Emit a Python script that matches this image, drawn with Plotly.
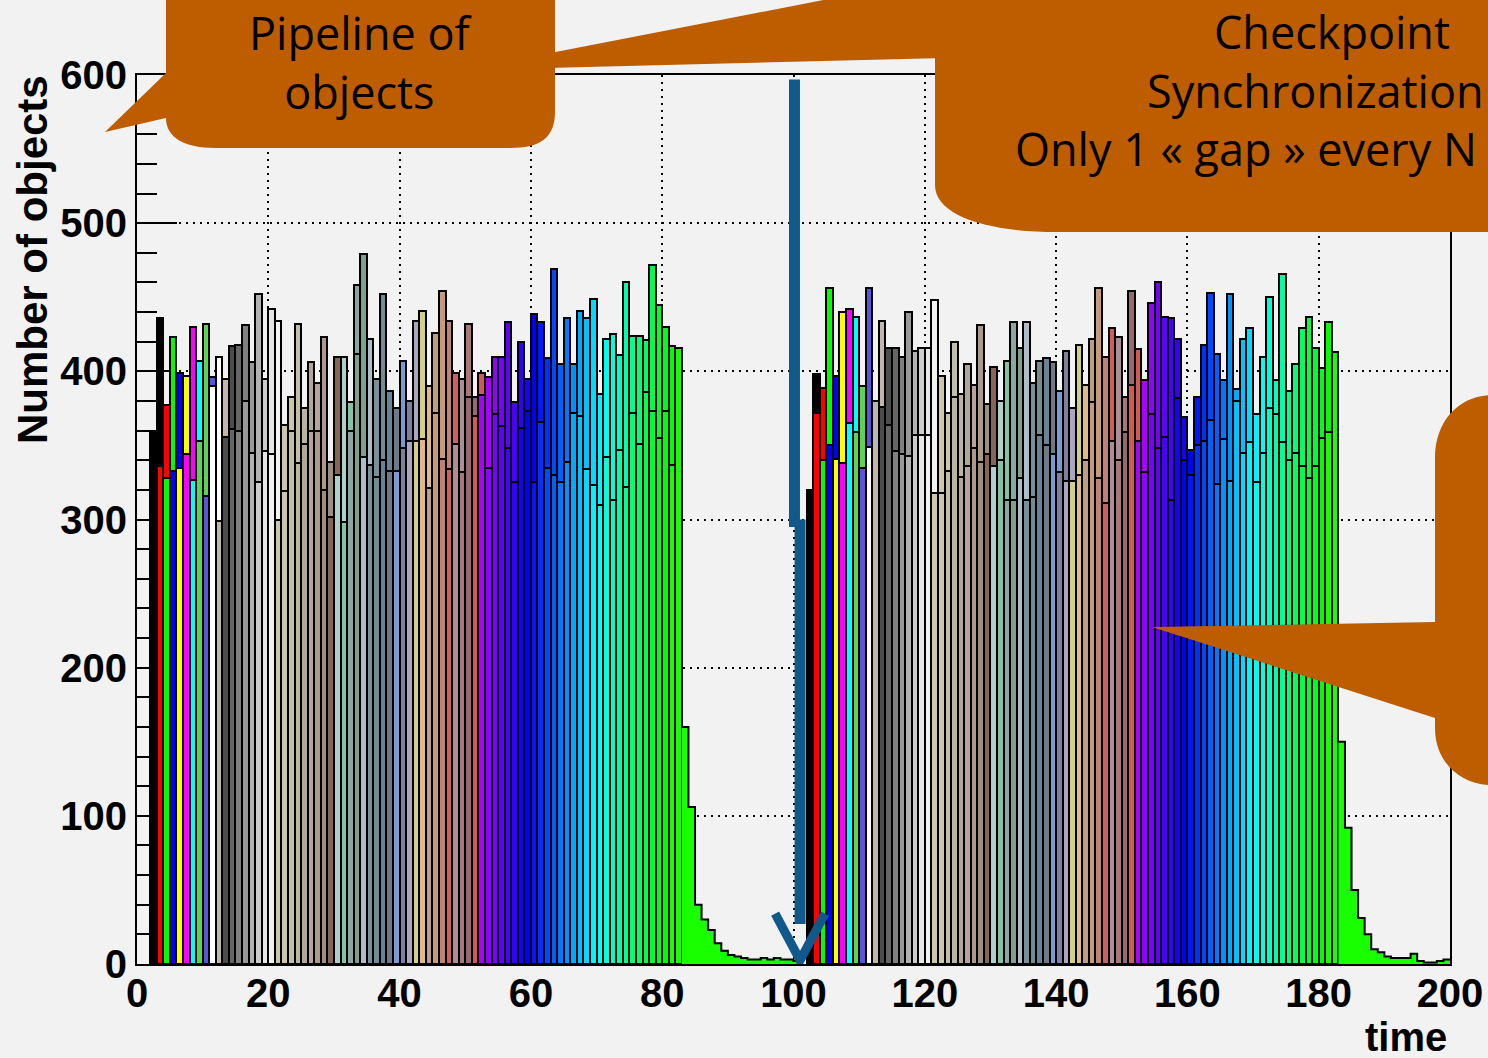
import colorsys
import plotly.graph_objects as go

# ---------------- data ----------------
# each "object" i has a rising bin (mid) followed by its peak bin
cycle1_start = 1      # object i: mid in bin start+i, peak in bin start+i+1
cycle1_mid = [359, 336, 328, 333, 335, 344, 327, 353, 316, 390, 299, 356, 361, 360, 380, 345,
              325, 346, 344, 300, 319, 360, 338, 351, 360, 360, 320, 302, 330, 298, 360, 412,
              342, 337, 329, 340, 333, 333, 348, 353, 353, 354, 321, 372, 341, 334, 351, 332,
              383, 370, 384, 335, 371, 363, 348, 325, 362, 373, 325, 366, 335, 330, 325, 339,
              372, 370, 334, 323, 310, 342, 313, 347, 322, 372, 351, 386, 373, 355, 373, 337]
cycle1_peak = [436, 377, 423, 399, 397, 430, 407, 432, 396, 410, 395, 417, 418, 431, 406, 452,
               395, 442, 434, 364, 383, 432, 375, 406, 392, 423, 339, 410, 410, 379, 458, 479,
               422, 395, 452, 387, 375, 407, 380, 434, 441, 390, 426, 454, 434, 399, 395, 432,
               383, 399, 396, 410, 410, 433, 379, 420, 395, 439, 433, 409, 469, 405, 436, 405,
               441, 436, 449, 385, 422, 425, 411, 460, 424, 424, 421, 472, 445, 430, 417, 416]
tail1_start = 83
tail1 = [160, 106, 40, 30, 23, 14, 9, 6, 5, 4, 3, 3, 4, 3, 4, 3, 3, 2]

cycle2_start = 101
cycle2_mid = [320, 372, 340, 350, 341, 338, 365, 359, 335, 349, 380, 376, 364, 346, 344, 343,
              357, 357, 357, 318, 318, 333, 383, 329, 336, 348, 339, 344, 336, 340, 313, 313,
              328, 313, 315, 357, 350, 344, 332, 326, 326, 330, 340, 379, 328, 311, 353, 340,
              359, 391, 353, 332, 371, 348, 356, 313, 382, 340, 330, 350, 353, 367, 324, 354,
              326, 380, 345, 352, 325, 345, 375, 371, 352, 340, 345, 336, 328, 336, 355, 359]
cycle2_peak = [398, 389, 456, 397, 440, 442, 437, 390, 456, 330, 434, 416, 416, 410, 440, 414,
               416, 416, 448, 397, 372, 420, 385, 405, 391, 431, 378, 403, 380, 407, 433, 416,
               433, 392, 407, 409, 406, 387, 414, 375, 418, 391, 422, 456, 410, 429, 423, 383,
               454, 415, 394, 446, 460, 437, 436, 422, 369, 347, 383, 418, 453, 412, 394, 452,
               388, 422, 429, 371, 410, 450, 394, 466, 387, 405, 429, 437, 416, 402, 433, 413]
tail2_start = 183
tail2 = [150, 92, 50, 31, 20, 10, 8, 5, 4, 4, 4, 7, 2, 1, 1, 2, 3]

x_ticks = [0, 20, 40, 60, 80, 100, 120, 140, 160, 180, 200]
y_ticks = [0, 100, 200, 300, 400, 500, 600]

# ---------------- ROOT default colour table ----------------
ROOT_RGB = {
    1: (0, 0, 0), 2: (1, 0, 0), 3: (0, 1, 0), 4: (0, 0, 1), 5: (1, 1, 0), 6: (1, 0, 1),
    7: (0, 1, 1), 8: (0.35, 0.83, 0.33), 9: (0.35, 0.33, 0.85), 10: (0.999, 0.999, 0.999),
    11: (0.754, 0.715, 0.676), 12: (.3, .3, .3), 13: (.4, .4, .4), 14: (.5, .5, .5),
    15: (.6, .6, .6), 16: (.7, .7, .7), 17: (.8, .8, .8), 18: (.9, .9, .9), 19: (.95, .95, .95),
    20: (0.8, 0.78, 0.67), 21: (0.8, 0.78, 0.67), 22: (0.76, 0.75, 0.66), 23: (0.73, 0.71, 0.64),
    24: (0.70, 0.65, 0.59), 25: (0.72, 0.64, 0.61), 26: (0.68, 0.6, 0.55), 27: (0.61, 0.56, 0.51),
    28: (0.53, 0.4, 0.34), 29: (0.69, 0.81, 0.79), 30: (0.52, 0.76, 0.64), 31: (0.54, 0.66, 0.63),
    32: (0.51, 0.62, 0.55), 33: (0.68, 0.74, 0.78), 34: (0.48, 0.56, 0.6), 35: (0.46, 0.54, 0.57),
    36: (0.41, 0.51, 0.59), 37: (0.43, 0.48, 0.52), 38: (0.49, 0.6, 0.82), 39: (0.5, 0.5, 0.61),
    40: (0.67, 0.65, 0.75), 41: (0.83, 0.81, 0.53), 42: (0.87, 0.73, 0.53), 43: (0.74, 0.62, 0.51),
    44: (0.78, 0.6, 0.49), 45: (0.75, 0.51, 0.47), 46: (0.81, 0.37, 0.38), 47: (0.67, 0.56, 0.58),
    48: (0.65, 0.47, 0.48), 49: (0.58, 0.41, 0.44), 50: (0.83, 0.35, 0.33),
}


def root_color(i):
    if i in ROOT_RGB:
        r, g, b = ROOT_RGB[i]
    else:
        hue = (280.0 - (i - 51) * 280.0 / 49.0) / 360.0
        r, g, b = colorsys.hls_to_rgb(hue, 0.5, 1.0)
    return "rgb(%d,%d,%d)" % (round(r * 255), round(g * 255), round(b * 255))


OUTLINE = dict(color="black", width=2)
fig = go.Figure()


def add_cycle(start, mids, peaks, tail_start, tail):
    n = len(peaks)
    cols = [root_color(i + 1) for i in range(n)]
    peak_x = [start + i + 1 + 1 + 0.5 for i in range(n)]
    mid_x = [start + i + 1 + 0.5 for i in range(n)]
    fig.add_trace(go.Bar(x=peak_x, y=peaks, width=1, marker=dict(color=cols, line=OUTLINE),
                         showlegend=False, hoverinfo="skip"))
    fig.add_trace(go.Bar(x=mid_x, y=mids, width=1, marker=dict(color=cols, line=OUTLINE),
                         showlegend=False, hoverinfo="skip"))
    tx = [tail_start + k for k in range(len(tail) + 1)]
    ty = list(tail) + [tail[-1]]
    fig.add_trace(go.Scatter(x=tx, y=ty, mode="lines", line=dict(shape="hv", color="black", width=2),
                             fill="tozeroy", fillcolor=cols[-1], showlegend=False, hoverinfo="skip"))


add_cycle(cycle1_start, cycle1_mid, cycle1_peak, tail1_start, tail1)
add_cycle(cycle2_start, cycle2_mid, cycle2_peak, tail2_start, tail2)

# ---------------- layout ----------------
W, H = 1488, 1058
L, R, T, B = 137, 1450, 75, 964


def px(X):
    return (X - L) / (R - L)


def py(Y):
    return (B - Y) / (B - T)


def path(cmds):
    out = []
    for c in cmds:
        if isinstance(c, str):
            out.append(c)
        else:
            out.append("%.5f,%.5f" % (px(c[0]), py(c[1])))
    return " ".join(out)


ORANGE = "#BE5C00"
BLUE = "#10598A"
shapes = []
# "Pipeline of objects" bubble
shapes.append(dict(type="path", xref="paper", yref="paper", layer="above", fillcolor=ORANGE,
                   line=dict(width=0),
                   path=path(["M", (166, -10), "L", (555, -10), "L", (555, 112), "C", (555, 138), (540, 148),
                              (510, 148), "L", (215, 148), "C", (185, 148), (166, 138), (166, 118),
                              "L", (105, 132), "L", (166, 73), "Z"])))
# wedge of the checkpoint bubble
shapes.append(dict(type="path", xref="paper", yref="paper", layer="above", fillcolor=ORANGE,
                   line=dict(width=0),
                   path=path(["M", (463, 70), "L", (875, -10), "L", (945, -10), "L", (945, 58), "Z"])))
# checkpoint bubble
shapes.append(dict(type="path", xref="paper", yref="paper", layer="above", fillcolor=ORANGE,
                   line=dict(width=0),
                   path=path(["M", (935, -10), "L", (1500, -10), "L", (1500, 232), "L", (1057, 232),
                              "C", (985, 232), (935, 215), (935, 185), "Z"])))
# right-hand bubble
shapes.append(dict(type="path", xref="paper", yref="paper", layer="above", fillcolor=ORANGE,
                   line=dict(width=0),
                   path=path(["M", (1500, 395), "L", (1492, 395), "C", (1460, 395), (1435, 420), (1435, 458),
                              "L", (1435, 622), "L", (1152, 627), "L", (1435, 718), "L", (1435, 728),
                              "C", (1435, 762), (1460, 785), (1492, 785), "L", (1500, 785), "Z"])))
# blue marker at the checkpoint
shapes.append(dict(type="line", xref="x", yref="y", layer="above", x0=100.15, x1=100.15, y0=597, y1=295,
                   line=dict(color=BLUE, width=11)))
shapes.append(dict(type="line", xref="x", yref="y", layer="above", x0=101.0, x1=101.0, y0=300, y1=27,
                   line=dict(color=BLUE, width=11)))
shapes.append(dict(type="path", xref="x", yref="y", layer="above",
                   path="M 97.2,34 L 101.0,2.5 L 104.8,34", line=dict(color=BLUE, width=9)))

BUB_FONT = dict(family="Open Sans", size=45, color="black")
annotations = [
    dict(text="Pipeline of<br>objects", x=px(361), y=py(62), xref="paper", yref="paper",
         showarrow=False, font=BUB_FONT, xanchor="center", yanchor="middle"),
    dict(text="Checkpoint", x=px(1332), y=py(32), xref="paper", yref="paper",
         showarrow=False, font=BUB_FONT, xanchor="center", yanchor="middle"),
    dict(text="Synchronization", x=px(1486), y=py(90), xref="paper", yref="paper",
         showarrow=False, font=BUB_FONT, xanchor="right", yanchor="middle"),
    dict(text="Only 1 « gap » every N", x=px(1013), y=py(148), xref="paper", yref="paper",
         showarrow=False, font=BUB_FONT, xanchor="left", yanchor="middle"),
    dict(text="Number of objects", x=px(32), y=py(260), xref="paper", yref="paper", textangle=-90,
         showarrow=False, font=dict(family="Liberation Sans", size=42, color="black", weight="bold"),
         xanchor="center", yanchor="middle"),
    dict(text="time", x=px(1449), y=py(1037), xref="paper", yref="paper",
         showarrow=False, font=dict(family="Liberation Sans", size=40, color="black", weight="bold"),
         xanchor="right", yanchor="middle"),
]

TICKFONT = dict(family="Liberation Sans", size=40, color="black", weight="bold")
fig.update_layout(
    width=W, height=H, autosize=False,
    margin=dict(l=L, r=W - R, t=T, b=H - B, pad=0),
    paper_bgcolor="#f2f2f2", plot_bgcolor="#f2f2f2",
    barmode="overlay", bargap=0,
    shapes=shapes, annotations=annotations,
    xaxis=dict(range=[0, 200], tickvals=x_ticks, ticktext=[str(v) for v in x_ticks],
               showgrid=True, gridcolor="black", griddash="2px,5px", gridwidth=1.5,
               showline=True, linecolor="black", linewidth=2, mirror=True, ticks="",
               ticklabelstandoff=-7, automargin=False,
               tickfont=TICKFONT, zeroline=False, layer="below traces", fixedrange=True),
    yaxis=dict(range=[0, 600], tickvals=y_ticks, ticktext=[str(v) for v in y_ticks],
               showgrid=True, gridcolor="black", griddash="2px,5px", gridwidth=1.5,
               showline=True, linecolor="black", linewidth=2, mirror=True,
               ticks="inside", ticklen=40, tickwidth=1.5, tickcolor="black", automargin=False,
               minor=dict(dtick=20, tick0=0, ticks="inside", ticklen=20, tickwidth=1.5,
                          tickcolor="black", showgrid=False),
               tickfont=TICKFONT, zeroline=False, layer="below traces", fixedrange=True),
)

fig.write_html("out.html",
               config={"displayModeBar": False},
               post_script="document.body.style.margin='0';"
                           "document.body.style.background='#f2f2f2';"
                           "document.documentElement.style.overflow='hidden';")
